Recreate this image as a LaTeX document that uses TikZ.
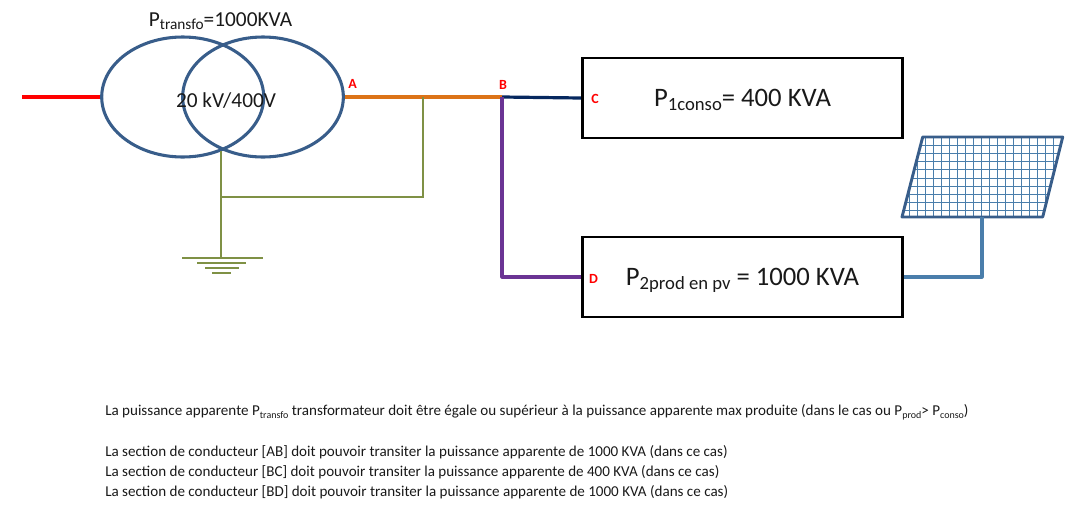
\documentclass[tikz,border=0pt]{standalone}
\usepackage{fontspec}
\setmainfont{Carlito}
\usetikzlibrary{shapes.geometric}
\definecolor{ringblue}{HTML}{385D8A}
\definecolor{wireblue}{HTML}{4A7EAB}
\definecolor{earth}{HTML}{7F9145}
\definecolor{ab}{HTML}{DC7318}
\definecolor{bd}{HTML}{6B3494}
\definecolor{bc}{HTML}{06285F}
\newcommand{\psub}[2]{\raisebox{-0.35ex}{\fontsize{#1}{#1}\selectfont #2}}
\tikzset{
  x=0.75pt,y=-0.75pt,
  ring/.style={draw=ringblue,line width=2.3pt,ellipse,minimum width=121.5pt,minimum height=90pt,inner sep=0pt},
  loadbox/.style={draw=black,line width=2.1pt,rectangle,minimum width=240.5pt,minimum height=60pt,inner sep=0pt},
  earthwire/.style={draw=earth,line width=1.5pt},
  tag/.style={text=red,font=\fontsize{10.5}{12}\selectfont\bfseries,inner sep=0pt},
  big/.style={font=\fontsize{20}{24}\selectfont,inner sep=0pt,anchor=base,text=black!90},
  mid/.style={font=\fontsize{16}{19}\selectfont,inner sep=0pt,anchor=base,text=black!90},
  note/.style={font=\fontsize{11.3}{13}\selectfont,inner sep=0pt,anchor=base west,text=black!90},
}
\begin{document}
\begin{tikzpicture}
\useasboundingbox (0,0) rectangle (1089,504);
% transformer
\node[ring] (t1) at (182.7,97) {};
\node[ring,minimum width=120.5pt] (t2) at (263,97) {};
\node[mid] (ratio) at (226,107) {20 kV/400V};
\node[mid] (ptr) at (220.5,26) {P\psub{11.5}{transfo}=1000KVA};
% junctions
\coordinate (in) at (22,97);
\coordinate (B) at (502,97);
\coordinate (tap) at (423,97);
\coordinate (star) at (221,151);
\coordinate (tee) at (221,197);
\coordinate (teeR) at (423,197);
\coordinate (gnd) at (221,257.5);
\coordinate (g1l) at (182,257.5); \coordinate (g1r) at (263,257.5);
\coordinate (g2l) at (197,262.5); \coordinate (g2r) at (246,262.5);
\coordinate (g3l) at (205,267.5); \coordinate (g3r) at (239,267.5);
\coordinate (g4l) at (212,272.5); \coordinate (g4r) at (231,272.5);
% loads
\node[loadbox] (c1) at (742.5,98) {};
\node[loadbox] (c2) at (742.5,277) {};
\node[big] (c1t) at (742.5,106) {P\psub{14}{1conso}= 400 KVA};
\node[big] (c2t) at (742.5,285) {P\psub{14}{2prod en pv} = 1000 KVA};
% connectors
\draw[red,line width=3.2pt] (in) -- (t1.west);
\draw[ab,line width=2.4pt] (t2.east) -- (B);
\draw[bc,line width=2.4pt] (B) -- (c1.west);
\draw[bd,line width=2.4pt,line join=round] (B) |- (c2.west);
\draw[earthwire] (star) -- (gnd);
\draw[earthwire] (tap) -- (teeR) -- (tee);
\foreach \n in {1,2,3,4} \draw[earthwire] (g\n l) -- (g\n r);
% PV panel
\coordinate (p1) at (922.7,137);
\coordinate (p2) at (1062.7,137);
\coordinate (p3) at (1042.7,217);
\coordinate (p4) at (902,217);
\coordinate (pb) at (982,217);
\begin{scope}
  \clip (p1) -- (p2) -- (p3) -- (p4) -- cycle;
  \foreach \k in {0,...,19} \draw[wireblue,line width=1pt] (909.5+8*\k,137) -- (909.5+8*\k,217);
  \foreach \yy in {145.5,153.5,161.5,169.5,178.5,186.5,194.5,202.5,210.5} \draw[wireblue,line width=1pt] (902,\yy) -- (1063,\yy);
\end{scope}
\draw[ringblue,line width=2.2pt,line join=round] (p1) -- (p2) -- (p3) -- (p4) -- cycle;
\draw[wireblue,line width=2.4pt,line join=round] (pb) |- (c2.east);
% point labels
\node[tag] (la) at (352.5,84) {A};
\node[tag] (lb) at (503,85) {B};
\node[tag] (lc) at (595,98.5) {C};
\node[tag] (ld) at (593.5,279) {D};
% notes
\node[note] (n1) at (105,415.5) {La puissance apparente P\psub{7.5}{transfo} transformateur doit être égale ou supérieur à la puissance apparente max produite (dans le cas ou P\psub{7.5}{prod}> P\psub{7.5}{conso})};
\node[note] (n2) at (105,456) {La section de conducteur [AB] doit pouvoir transiter la puissance apparente de 1000 KVA (dans ce cas)};
\node[note] (n3) at (105,476) {La section de conducteur [BC] doit pouvoir transiter la puissance apparente de 400 KVA (dans ce cas)};
\node[note] (n4) at (105,496) {La section de conducteur [BD] doit pouvoir transiter la puissance apparente de 1000 KVA (dans ce cas)};
\end{tikzpicture}
\end{document}
